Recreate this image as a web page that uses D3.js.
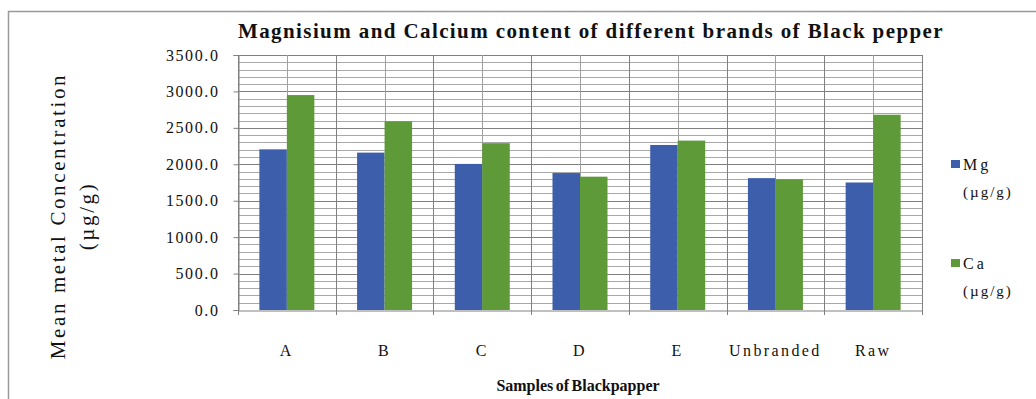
<!DOCTYPE html>
<html>
<head>
<meta charset="utf-8">
<script src="https://cdn.jsdelivr.net/npm/d3@7"></script>
<style>
  html, body { margin: 0; padding: 0; background: #fff; }
  svg { display: block; }
  text { font-family: "Liberation Serif", "DejaVu Serif", serif; fill: #111; }
</style>
</head>
<body>
<svg id="chart" width="1036" height="399"></svg>
<script>
// Sample categories and series (mean concentration, µg/g)
const categories = ["A", "B", "C", "D", "E", "Unbranded", "Raw"];
const seriesNames = ["Mg", "Ca"];
const mgValues = [2205, 2160, 2005, 1880, 2265, 1810, 1750];
const caValues = [2950, 2590, 2290, 1830, 2325, 1795, 2680];
const yTicks = [0, 500, 1000, 1500, 2000, 2500, 3000, 3500];
const colors = { Mg: "#3d5fab", Ca: "#5f9a38" };

const svg = d3.select("#chart");

// outer frame
svg.append("rect")
  .attr("x", 8.5).attr("y", 11.5)
  .attr("width", 1040).attr("height", 400)
  .attr("fill", "none").attr("stroke", "#9a9a9a").attr("stroke-width", 1.5);

const plot = { left: 238, right: 922, top: 55, bottom: 310 };

const x0 = d3.scaleBand().domain(categories).range([plot.left, plot.right]).padding(0);
const x1 = d3.scaleBand().domain(seriesNames).range([0, x0.bandwidth()])
  .paddingInner(0).paddingOuter((x0.bandwidth() / 27.5 - 2) / 2);
const y = d3.scaleLinear().domain([0, 3500]).range([plot.bottom, plot.top]);

const g = svg.append("g");

// horizontal minor gridlines every 100
const minor = d3.range(100, 3500, 100).filter(v => v % 500 !== 0);
g.selectAll("line.hminor").data(minor).join("line")
  .attr("x1", plot.left).attr("x2", plot.right)
  .attr("y1", d => Math.round(y(d)) + 0.5).attr("y2", d => Math.round(y(d)) + 0.5)
  .attr("stroke", "#a8a8a8").attr("stroke-width", 1);

// horizontal major gridlines
g.selectAll("line.hmajor").data(yTicks.slice(1)).join("line")
  .attr("x1", plot.left).attr("x2", plot.right)
  .attr("y1", d => Math.round(y(d)) + 0.5).attr("y2", d => Math.round(y(d)) + 0.5)
  .attr("stroke", "#808080").attr("stroke-width", 1);

// vertical gridlines at category boundaries and centers
const vBounds = categories.map(c => x0(c)).concat([plot.right]);
const vCenters = categories.map(c => x0(c) + x0.bandwidth() / 2);
g.selectAll("line.vcenter").data(vCenters).join("line")
  .attr("x1", d => Math.round(d) + 0.5).attr("x2", d => Math.round(d) + 0.5)
  .attr("y1", plot.top).attr("y2", plot.bottom)
  .attr("stroke", "#a0a0a0").attr("stroke-width", 1);
g.selectAll("line.vbound").data(vBounds).join("line")
  .attr("x1", d => Math.round(d) + 0.5).attr("x2", d => Math.round(d) + 0.5)
  .attr("y1", plot.top).attr("y2", plot.bottom + 5)
  .attr("stroke", "#808080").attr("stroke-width", 1);

// bars
const rows = categories.map((c, i) => ({ cat: c, Mg: mgValues[i], Ca: caValues[i] }));
const groups = g.selectAll("g.cat").data(rows).join("g")
  .attr("transform", d => `translate(${x0(d.cat)},0)`);
groups.selectAll("rect").data(d => seriesNames.map(s => ({ s, v: d[s] }))).join("rect")
  .attr("x", d => x1(d.s))
  .attr("width", x1.bandwidth())
  .attr("y", d => y(d.v))
  .attr("height", d => y(0) - y(d.v))
  .attr("fill", d => colors[d.s]);

// axes
const yAxis = d3.axisLeft(y).tickValues(yTicks).tickFormat(d3.format(".1f")).tickSize(5).tickPadding(14);
const ya = svg.append("g").attr("transform", `translate(${plot.left + 0.5},0)`).call(yAxis);
ya.select(".domain").attr("stroke", "#808080");
ya.selectAll(".tick line").attr("stroke", "#808080");
ya.selectAll(".tick text").attr("font-size", 16).attr("letter-spacing", 1.6)
  .attr("font-family", "Liberation Serif").attr("fill", "#111");

const xAxis = d3.axisBottom(x0).tickSize(0).tickPadding(34);
const xa = svg.append("g").attr("transform", `translate(0,${plot.bottom + 0.5})`).call(xAxis);
xa.select(".domain").attr("stroke", "#808080");
xa.selectAll(".tick text").attr("font-size", 16).attr("letter-spacing", 2.4)
  .attr("font-family", "Liberation Serif").attr("fill", "#111");

// title
svg.append("text")
  .attr("x", 591).attr("y", 38)
  .attr("text-anchor", "middle")
  .attr("font-size", 21).attr("font-weight", "bold").attr("letter-spacing", 1.4)
  .text("Magnisium and Calcium content of different brands of Black pepper");

// y axis title (two lines)
const yt = svg.append("text")
  .attr("transform", "translate(65,216) rotate(-90)")
  .attr("text-anchor", "middle")
  .attr("font-size", 21).attr("letter-spacing", 2.6);
yt.append("tspan").attr("x", 0).attr("dy", 0).text("Mean metal Concentration");
yt.append("tspan").attr("x", 0).attr("dy", 29).text("(µg/g)");

// x axis title
svg.append("text")
  .attr("x", 578).attr("y", 391)
  .attr("text-anchor", "middle")
  .attr("font-size", 16).attr("font-weight", "bold").attr("word-spacing", -1.5)
  .text("Samples of Blackpapper");

// legend
const legend = svg.append("g");
const legendItems = [
  { s: "Mg", y: 164 },
  { s: "Ca", y: 263 }
];
legendItems.forEach(it => {
  legend.append("rect").attr("x", 951).attr("y", it.y - 4)
    .attr("width", 9).attr("height", 8).attr("fill", colors[it.s]);
  legend.append("text").attr("x", 963).attr("y", it.y + 6)
    .attr("font-size", 16).attr("letter-spacing", 3).text(it.s);
  legend.append("text").attr("x", 963).attr("y", it.y + 33)
    .attr("font-size", 15).attr("letter-spacing", 2).text("(µg/g)");
});
</script>
</body>
</html>
